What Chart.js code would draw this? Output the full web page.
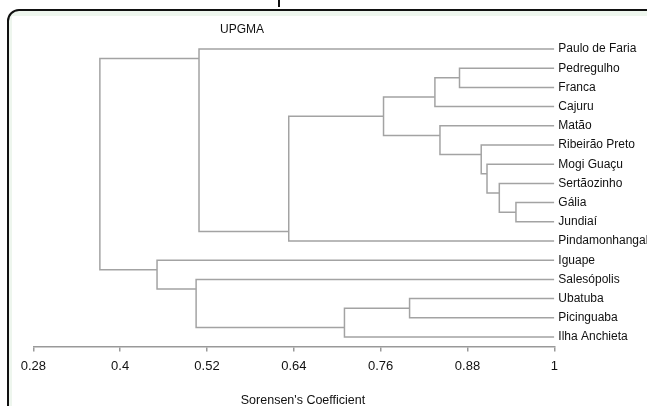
<!DOCTYPE html>
<html>
<head>
<meta charset="utf-8">
<script src="https://cdn.jsdelivr.net/npm/chart.js@4"></script>
<style>
  html, body { margin:0; padding:0; background:#fff; overflow:hidden; }
  #wrap { position:relative; width:647px; height:406px; overflow:hidden; }
  .frame { position:absolute; left:7px; top:9px; width:680px; height:440px;
           border:2px solid #111; border-radius:12px; background:#eef6ee; }
  .inner { position:absolute; left:12px; top:16px; width:700px; height:440px; background:#fff; }
  .stub { position:absolute; left:278px; top:0; width:2px; height:7px; background:#111; }
  canvas { position:absolute; left:0; top:0; }
</style>
</head>
<body>
<div id="wrap">
  <div class="stub"></div>
  <div class="frame"></div>
  <div class="inner"></div>
  <canvas id="dendro" width="647" height="406"></canvas>
</div>
<script>
// leaves top to bottom
const leaves = ['Paulo de Faria', 'Pedregulho', 'Franca', 'Cajuru', 'Matão', 'Ribeirão Preto',
  'Mogi Guaçu', 'Sertãozinho', 'Gália', 'Jundiaí', 'Pindamonhangaba', 'Iguape',
  'Salesópolis', 'Ubatuba', 'Picinguaba', 'Ilha Anchieta'];

// merges: ids < 16 are leaves, merge k gets id 16 + k
const mergeA = [1, 16, 8, 7, 6, 5, 4, 17, 23, 0, 13, 26, 12, 11, 25];
const mergeB = [2, 3, 9, 18, 19, 20, 21, 22, 10, 24, 14, 15, 27, 28, 29];
const mergeSim = [0.869, 0.835, 0.947, 0.924, 0.907, 0.899, 0.842, 0.764, 0.633, 0.509,
  0.800, 0.710, 0.505, 0.451, 0.372];

const xTicks = [0.28, 0.4, 0.52, 0.64, 0.76, 0.88, 1];

const FONT = '"Liberation Sans", Arial, sans-serif';
const LINE = '#a3a3a3';

// work out x/y of every node
const nodes = leaves.map((_, i) => ({ x: 1, y: i, lo: i, hi: i }));
const datasets = [];
mergeA.forEach((a, k) => {
  const A = nodes[a], B = nodes[mergeB[k]], c = mergeSim[k];
  datasets.push({
    data: [{x: A.x, y: A.y}, {x: c, y: A.y}, {x: c, y: B.y}, {x: B.x, y: B.y}],
    borderColor: LINE, borderWidth: 1.5, pointRadius: 0, showLine: true, fill: false
  });
  nodes.push({ x: c, y: (A.hi + B.lo) / 2, lo: A.lo, hi: B.hi });
});

const textPlugin = {
  id: 'texts',
  afterDraw(chart) {
    const ctx = chart.ctx;
    ctx.save();
    ctx.fillStyle = '#111';
    ctx.textAlign = 'center';
    ctx.textBaseline = 'middle';
    ctx.font = '12px ' + FONT;
    ctx.fillText('UPGMA', 242, 30);
    ctx.font = '12.5px ' + FONT;
    ctx.fillText("Sorensen's Coefficient", 303, 401);
    ctx.restore();
  }
};

new Chart(document.getElementById('dendro'), {
  type: 'scatter',
  data: { datasets },
  options: {
    responsive: false,
    animation: false,
    layout: { padding: { left: 33.3, top: 20.2, right: 0, bottom: 0 } },
    plugins: { legend: { display: false }, tooltip: { enabled: false } },
    scales: {
      x: {
        type: 'linear', min: 0.28, max: 1,
        afterBuildTicks: s => { s.ticks = xTicks.map(v => ({ value: v })); },
        afterFit: s => { s.height = 406 - 346.6; },
        grid: { drawOnChartArea: false, drawTicks: true, tickLength: 5, color: '#999', lineWidth: 1.5 },
        border: { color: '#999', width: 1.5 },
        ticks: { color: '#111', font: { family: FONT, size: 13 }, padding: 7,
                 maxRotation: 0, autoSkip: false, callback: v => String(v) }
      },
      y: {
        type: 'linear', position: 'right', reverse: true, min: -1.5, max: 15.5,
        afterBuildTicks: s => { s.ticks = leaves.map((_, i) => ({ value: i })); },
        afterFit: s => { s.width = 647 - 554.3; },
        grid: { display: false, drawTicks: false },
        border: { display: false },
        ticks: { color: '#111', font: { family: FONT, size: 12 }, padding: 4,
                 autoSkip: false, crossAlign: 'near', callback: v => leaves[v] }
      }
    }
  },
  plugins: [textPlugin]
});
</script>
</body>
</html>
